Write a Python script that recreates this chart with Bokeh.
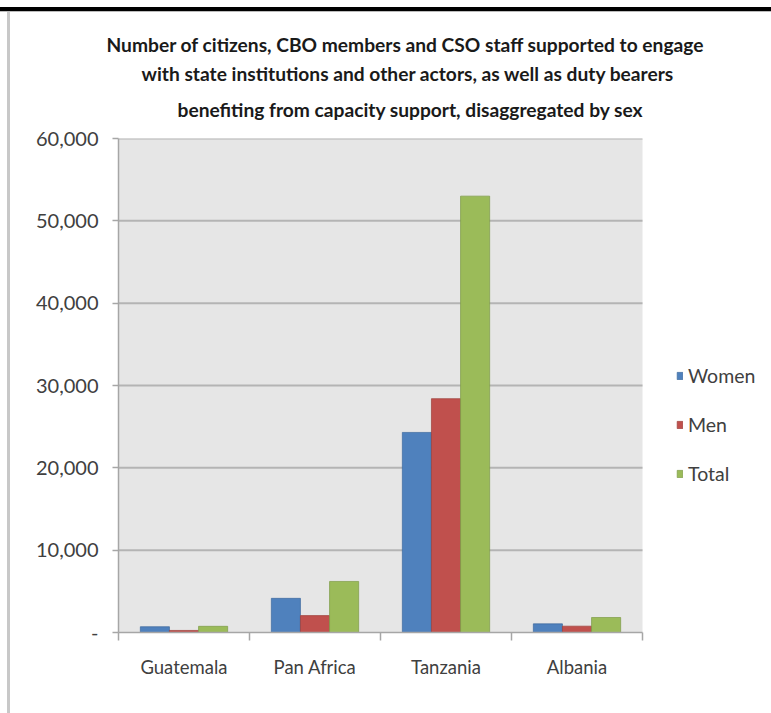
from bokeh.plotting import figure
from bokeh.models import (Range1d, FixedTicker, Legend, LegendItem, Title,
                          ColumnDataSource, InlineStyleSheet)
from bokeh.transform import dodge
from bokeh.embed import file_html
from bokeh.resources import INLINE

categories = ["Guatemala", "Pan Africa", "Tanzania", "Albania"]
women = [700, 4150, 24300, 1050]
men = [250, 2050, 28400, 770]
total = [750, 6200, 53000, 1820]
series_names = ["Women", "Men", "Total"]
colors = ["#4F81BD", "#C0504D", "#9BBB59"]
edge_colors = ["#3D6A9E", "#9E3E3B", "#7E9B47"]
y_ticks = [0, 10000, 20000, 30000, 40000, 50000, 60000]
y_tick_labels = ["-", "10,000", "20,000", "30,000", "40,000", "50,000", "60,000"]
title_lines = [
    "Number of citizens, CBO members and CSO staff supported to engage",
    "with state institutions and other actors, as well as duty bearers",
    "benefiting from capacity support, disaggregated by sex",
]

FONT = "Lato"
W, H = 771, 713
FL, FR, FT, FB = 118, 642, 138, 632   # plot-area box in pixels

n = len(categories)
y_max = y_ticks[-1]
x_end = n * (W - FL) / (FR - FL)      # frame extends right to hold the legend
x_pos = [i + 0.5 for i in range(n)]
src = ColumnDataSource(dict(x=x_pos, Women=women, Men=men, Total=total))

p = figure(width=W, height=H, x_range=Range1d(0, x_end), y_range=Range1d(0, y_max),
           output_backend="svg", toolbar_location=None,
           min_border_left=FL, min_border_right=0,
           min_border_top=FT, min_border_bottom=H - FB)
p.background_fill_color = "white"
p.border_fill_color = "white"
p.outline_line_color = None
p.xgrid.visible = False
p.ygrid.visible = False

# plot-area background and gridlines
p.quad(left=[0], right=[n], bottom=[0], top=[y_max], fill_color="#E6E6E6", line_color=None)
p.segment(x0=[0] * (len(y_ticks) - 1), x1=[n] * (len(y_ticks) - 1),
          y0=y_ticks[1:], y1=y_ticks[1:], line_color="#B4B4B4", line_width=2)

bw = 1 / 4.5
renderers = []
for k, name in enumerate(series_names):
    r = p.vbar(x=dodge("x", (k - 1) * bw, range=p.x_range), top=name, width=bw,
               bottom=0, source=src, fill_color=colors[k], line_color=edge_colors[k],
               line_width=1, line_alpha=0.7)
    renderers.append(r)

# y axis
p.yaxis.ticker = FixedTicker(ticks=y_ticks)
p.yaxis.major_label_overrides = {t: l for t, l in zip(y_ticks, y_tick_labels)}
p.yaxis.axis_line_color = "#A6A6A6"
p.yaxis.axis_line_width = 1.5
p.yaxis.major_tick_line_color = "#A6A6A6"
p.yaxis.major_tick_line_width = 1.5
p.yaxis.major_tick_in = 0
p.yaxis.major_tick_out = 6
p.yaxis.minor_tick_line_color = None
p.yaxis.major_label_text_font = FONT
p.yaxis.major_label_text_font_size = "20px"
p.yaxis.major_label_text_color = "#404040"
p.yaxis.major_label_standoff = 14

# x axis
p.xaxis.bounds = (0, n)
p.xaxis.ticker = FixedTicker(ticks=x_pos, minor_ticks=list(range(n + 1)))
p.xaxis.major_label_overrides = {x: c for x, c in zip(x_pos, categories)}
p.xaxis.axis_line_color = "#A6A6A6"
p.xaxis.axis_line_width = 1.5
p.xaxis.major_tick_line_color = None
p.xaxis.minor_tick_line_color = "#A6A6A6"
p.xaxis.minor_tick_line_width = 1.5
p.xaxis.minor_tick_in = 0
p.xaxis.minor_tick_out = 8
p.xaxis.major_label_text_font = FONT
p.xaxis.major_label_text_font_size = "18.5px"
p.xaxis.major_label_text_color = "#404040"
p.xaxis.major_label_standoff = 15

# legend (inside the widened frame, right of the plot area)
items = [LegendItem(label=nm, renderers=[r]) for nm, r in zip(series_names, renderers)]
legend = Legend(items=items, location=(676 - FL, FB - 485), orientation="vertical",
                glyph_width=7, glyph_height=9, label_height=20, spacing=26,
                label_standoff=5, padding=0, margin=0,
                label_text_font=FONT, label_text_font_size="19.5px",
                label_text_color="#404040",
                border_line_color=None, background_fill_alpha=0)
p.add_layout(legend, "center")

# small spacer between plot area and title block
p.add_layout(Title(text=" ", text_font_size="1px", standoff=6), "above")

# title: stacked lines, nearest-to-frame added first; left offsets place each line
title_left = [106, 141, 177]
title_standoff = [4, 5, 17]
for line, sto, lx in zip(reversed(title_lines), reversed(title_standoff), reversed(title_left)):
    p.add_layout(Title(text=line, align="left", text_font=FONT,
                       text_font_size="19.2px", text_color="#1A1A1A",
                       text_font_style="bold", standoff=sto,
                       offset=lx - FL), "above")

p.stylesheets = [InlineStyleSheet(css="""
:host { position: relative; }
:host::before { content: ""; position: absolute; left: 0; top: 7px; width: 771px;
  height: 4px; background: #000; border-bottom: 1px solid #BBBBBB; z-index: 10; }
:host::after { content: ""; position: absolute; left: 7px; top: 12px; width: 3px;
  height: 701px; background: #C8C8C8; z-index: 10; }
""")]

open("out.html", "w").write(file_html(p, INLINE))
